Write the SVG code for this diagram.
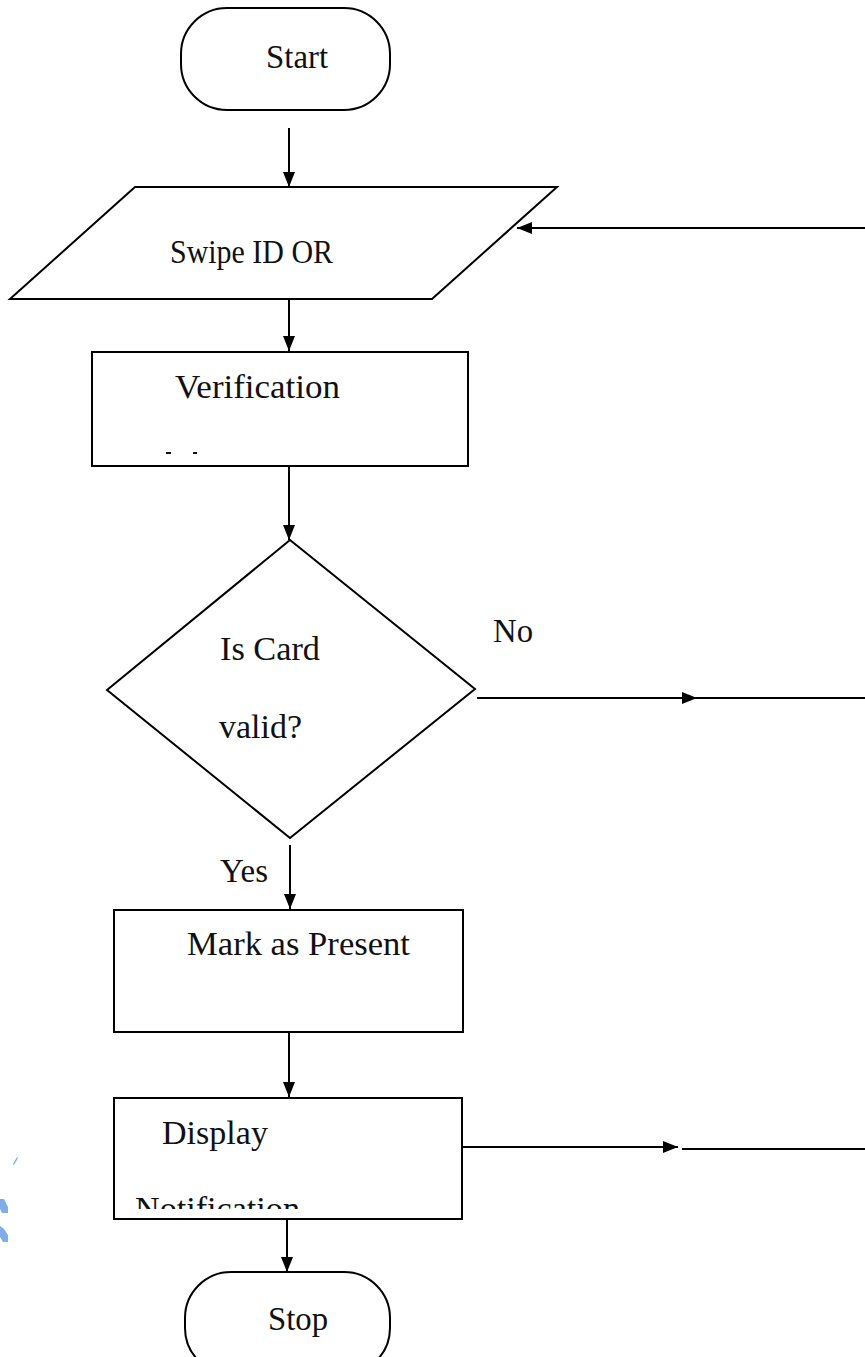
<svg xmlns="http://www.w3.org/2000/svg" width="865" height="1357" viewBox="0 0 865 1357">
<style>
.shape{fill:#fff;stroke:#000;stroke-width:2}
.line{fill:none;stroke:#000;stroke-width:2}
.t{font-family:"Liberation Serif","Times New Roman",serif;font-size:33px;fill:#111}
.wm{fill:#7eaee6}
</style>
<defs>
<marker id="ah" markerUnits="userSpaceOnUse" markerWidth="15" markerHeight="12" refX="15" refY="6" orient="auto">
<path d="M0,0 L15,6 L0,12 z" fill="#000"/>
</marker>
<clipPath id="clipDisp"><rect x="114" y="1098" width="348" height="111"/></clipPath>
</defs>
<rect width="865" height="1357" fill="#fff"/>

<g id="watermark">
<path class="wm" d="M13,1164 L17,1157 L18,1158 L14,1165 z"/>
<path class="wm" d="M0,1199 L4,1199 L8,1207 L8,1213 L2,1213 L0,1209 z"/>
<path class="wm" d="M0,1226 L4,1229 L8,1235 L8,1242 L3,1242 L0,1237 z"/>
</g>

<g id="connectors">
<path class="line" d="M289,128 V187" marker-end="url(#ah)"/>
<path class="line" d="M289,283 V351" marker-end="url(#ah)"/>
<path class="line" d="M289,466 V540" marker-end="url(#ah)"/>
<path class="line" d="M290,845 V909" marker-end="url(#ah)"/>
<path class="line" d="M289,1032 V1097" marker-end="url(#ah)"/>
<path class="line" d="M287,1219 V1272" marker-end="url(#ah)"/>
<path class="line" d="M865,228 H517" marker-end="url(#ah)"/>
<path class="line" d="M477,698 H697" marker-end="url(#ah)"/>
<path class="line" d="M697,698 H865"/>
<path class="line" d="M462,1147 H678" marker-end="url(#ah)"/>
<path class="line" d="M682,1149 H865"/>
<text class="t" x="493" y="642" textLength="40" lengthAdjust="spacingAndGlyphs">No</text>
<text class="t" x="220" y="882" textLength="48" lengthAdjust="spacingAndGlyphs">Yes</text>
</g>

<g id="start">
<rect class="shape" x="181" y="8" width="209" height="102" rx="46" ry="46"/>
<text class="t" x="266" y="68" textLength="62" lengthAdjust="spacingAndGlyphs">Start</text>
</g>

<g id="swipe">
<polygon class="shape" points="135,187 557,187 432,299 10,299"/>
<text class="t" x="170" y="263" textLength="163" lengthAdjust="spacingAndGlyphs">Swipe ID OR</text>
</g>

<g id="verification">
<rect class="shape" x="92" y="352" width="376" height="114"/>
<text class="t" x="175" y="398" textLength="165" lengthAdjust="spacingAndGlyphs">Verification</text>
<rect x="166" y="452" width="5" height="2" fill="#111"/>
<rect x="193" y="452" width="4" height="2" fill="#111"/>
</g>

<g id="decision">
<polygon class="shape" points="290,540 475,689 290,838 107,690"/>
<text class="t" x="220" y="660" textLength="100" lengthAdjust="spacingAndGlyphs">Is Card</text>
<text class="t" x="219" y="738" textLength="83" lengthAdjust="spacingAndGlyphs">valid?</text>
</g>

<g id="mark">
<rect class="shape" x="114" y="910" width="349" height="122"/>
<text class="t" x="187" y="955" textLength="223" lengthAdjust="spacingAndGlyphs">Mark as Present</text>
</g>

<g id="display">
<rect class="shape" x="114" y="1098" width="348" height="121"/>
<text class="t" x="162" y="1144" textLength="106" lengthAdjust="spacingAndGlyphs">Display</text>
<text class="t" x="135" y="1220" textLength="165" lengthAdjust="spacingAndGlyphs" clip-path="url(#clipDisp)">Notification</text>
</g>

<g id="stop">
<rect class="shape" x="185" y="1272" width="205" height="102" rx="46" ry="46"/>
<text class="t" x="268" y="1330" textLength="60" lengthAdjust="spacingAndGlyphs">Stop</text>
</g>
</svg>
